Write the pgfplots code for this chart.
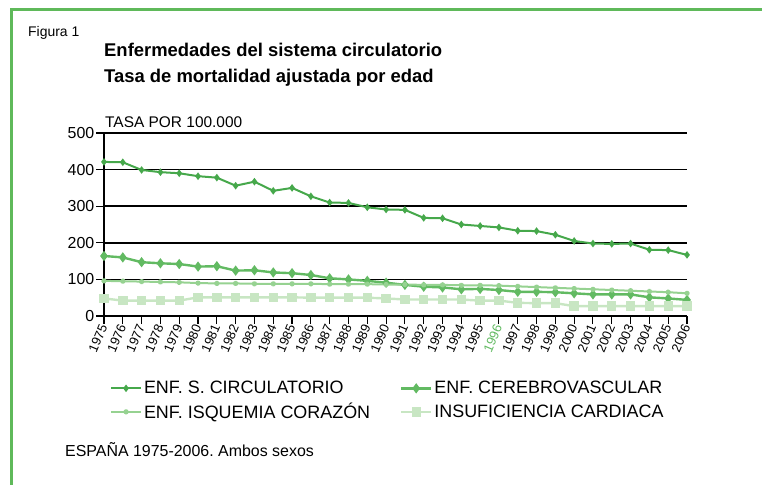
\documentclass[border=0pt]{standalone}
\usepackage{fontspec}
\setmainfont{Liberation Sans}
\usepackage{pgfplots}
\pgfplotsset{compat=1.18}

\definecolor{gcirc}{RGB}{70,168,75}
\definecolor{gcer}{RGB}{98,186,98}
\definecolor{gisq}{RGB}{150,210,145}
\definecolor{gins}{RGB}{200,230,195}
\definecolor{gframe}{RGB}{95,185,90}

\begin{document}
\frenchspacing
\begin{tikzpicture}
\path[use as bounding box] (0,0) rectangle (762bp,485bp);
% green frame (cut at right and bottom)
\draw[gframe, line width=2.2bp] (11.5bp,0) -- (11.5bp,475.5bp) -- (762bp,475.5bp);

\node[anchor=base west, inner sep=0pt, font=\fontsize{14}{16}\selectfont] at (28bp,448bp) {Figura 1};
\node[anchor=base west, inner sep=0pt, font=\bfseries\fontsize{18.5}{21}\selectfont] at (104bp,428bp) {Enfermedades del sistema circulatorio};
\node[anchor=base west, inner sep=0pt, font=\bfseries\fontsize{18.5}{21}\selectfont] at (104bp,402bp) {Tasa de mortalidad ajustada por edad};
\node[anchor=base west, inner sep=0pt, font=\fontsize{15.5}{18}\selectfont] at (105bp,357bp) {TASA POR 100.000};
\node[anchor=base west, inner sep=0pt, font=\fontsize{16}{18}\selectfont] at (65bp,29bp) {ESPAÑA 1975-2006. Ambos sexos};

\begin{axis}[
  at={(104bp,169bp)}, anchor=south west,
  scale only axis, width=583bp, height=183bp,
  xmin=1975, xmax=2006, ymin=0, ymax=500,
  axis lines*=left,
  axis line style={black, line width=1.6bp},
  ytick={0,100,...,500},
  xtick={1975,...,2006},
  xticklabels={1975,1976,1977,1978,1979,1980,1981,1982,1983,1984,1985,1986,1987,1988,1989,1990,1991,1992,1993,1994,1995,{\color{gcer}1996},1997,1998,1999,2000,2001,2002,2003,2004,2005,2006},
  ymajorgrids,
  grid style={black, line width=1.6bp},
  tick align=outside,
  major tick length=8bp,
  tick style={black, line width=1.1bp},
  /pgf/number format/assume math mode=true,
  /pgf/number format/1000 sep={},
  y tick label style={font=\fontsize{16}{18}\selectfont, inner sep=1.5bp},
  x tick label style={rotate=67, anchor=east, font=\fontsize{13}{15}\selectfont, inner sep=1bp},
  legend style={at={(0.01,-0.345)}, anchor=north west, draw=none, fill=none,
    font=\fontsize{18}{20}\selectfont, inner sep=0pt, row sep=4bp},
  legend columns=2,
  legend cell align=left,
  legend image code/.code={\draw[mark repeat=2, mark phase=2] plot coordinates {(0bp,0bp) (15bp,0bp) (30bp,0bp)};},
]
\addplot[color=gcirc, line width=2bp, mark=diamond*, mark size=2.2bp, mark options={solid}] coordinates {
(1975,421) (1976,420) (1977,399) (1978,393) (1979,390) (1980,382) (1981,378) (1982,356)
(1983,367) (1984,342) (1985,350) (1986,327) (1987,310) (1988,309) (1989,297) (1990,291)
(1991,290) (1992,268) (1993,267) (1994,250) (1995,246) (1996,242) (1997,233) (1998,232)
(1999,222) (2000,205) (2001,198) (2002,197) (2003,198) (2004,181) (2005,180) (2006,167)
};
\addlegendentry{\makebox[254bp][l]{ENF. S. CIRCULATORIO}}

\addplot[color=gcer, line width=2.4bp, mark=diamond*, mark size=3.2bp] coordinates {
(1975,164) (1976,160) (1977,147) (1978,144) (1979,142) (1980,135) (1981,136) (1982,124)
(1983,125) (1984,119) (1985,117) (1986,112) (1987,103) (1988,100) (1989,96) (1990,91)
(1991,85) (1992,80) (1993,78) (1994,73) (1995,74) (1996,71) (1997,66) (1998,66)
(1999,65) (2000,62) (2001,59) (2002,59) (2003,59) (2004,51) (2005,48) (2006,44)
};
\addlegendentry{ENF. CEREBROVASCULAR}

\addplot[color=gisq, line width=2bp, mark=asterisk, mark size=2.5bp] coordinates {
(1975,96) (1976,95) (1977,94) (1978,93) (1979,92) (1980,90) (1981,89) (1982,89)
(1983,88) (1984,88) (1985,88) (1986,88) (1987,87) (1988,87) (1989,87) (1990,86)
(1991,86) (1992,85) (1993,85) (1994,84) (1995,84) (1996,83) (1997,81) (1998,79)
(1999,77) (2000,75) (2001,73) (2002,71) (2003,69) (2004,67) (2005,65) (2006,62)
};
\addlegendentry{\makebox[254bp][l]{ENF. ISQUEMIA CORAZÓN}}

\addplot[color=gins, line width=2.4bp, mark=square*, mark size=3.5bp] coordinates {
(1975,48) (1976,42) (1977,42) (1978,42) (1979,42) (1980,51) (1981,51) (1982,51)
(1983,51) (1984,51) (1985,51) (1986,50) (1987,50) (1988,50) (1989,50) (1990,48)
(1991,45) (1992,45) (1993,45) (1994,45) (1995,42) (1996,42) (1997,36) (1998,35)
(1999,35) (2000,27) (2001,27) (2002,27) (2003,27) (2004,27) (2005,27) (2006,27)
};
\addlegendentry{INSUFICIENCIA CARDIACA}
\end{axis}
\end{tikzpicture}
\end{document}
